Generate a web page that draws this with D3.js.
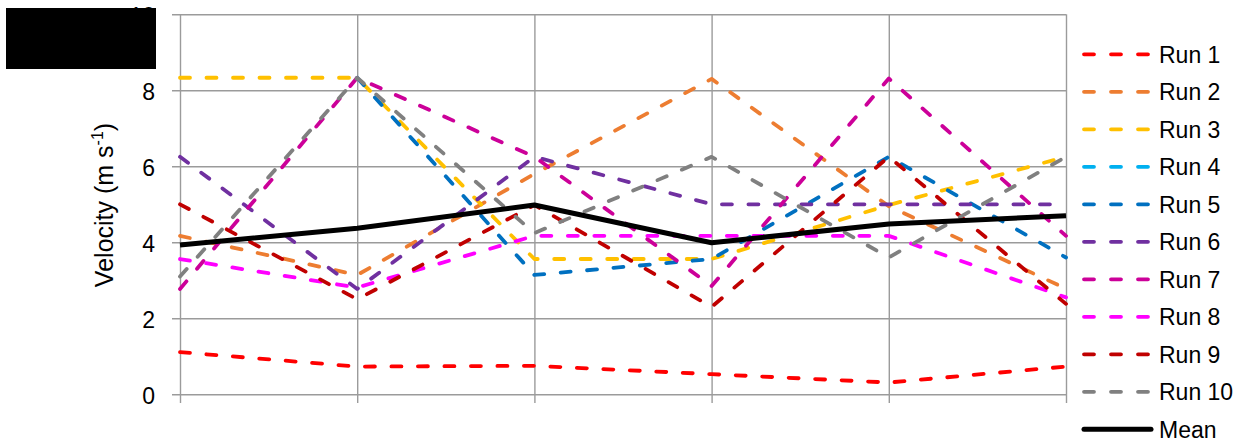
<!DOCTYPE html>
<html>
<head>
<meta charset="utf-8">
<script src="https://cdn.jsdelivr.net/npm/d3@7/dist/d3.min.js"></script>
<style>
  html, body { margin: 0; padding: 0; background: #fff; }
  svg { display: block; font-family: "Liberation Sans", Arial, sans-serif; }
</style>
</head>
<body>
<svg id="chart" width="1260" height="443"></svg>
<script>
// ---- data ----
const categories = ["1", "2", "3", "4", "5", "6"];
const yTicks = [0, 2, 4, 6, 8, 10];
const seriesNames = ["Run 1", "Run 2", "Run 3", "Run 4", "Run 5", "Run 6", "Run 7", "Run 8", "Run 9", "Run 10", "Mean"];
const run1  = [1.11, 0.73, 0.75, 0.53, 0.31, 0.73];
const run2  = [4.17, 3.14, 5.80, 8.30, 4.95, 2.78];
const run3  = [8.33, 8.33, 3.56, 3.56, 4.98, 6.25];
const run4  = [null, null, null, null, null, null];
const run5  = [null, 8.33, 3.14, 3.56, 6.25, 3.60];
const run6  = [6.25, 2.77, 6.25, 5.00, 5.00, 5.00];
const run7  = [2.77, 8.33, 6.25, 2.85, 8.31, 4.17];
const run8  = [3.56, 2.81, 4.17, 4.17, 4.17, 2.55];
const run9  = [5.00, 2.50, 4.98, 2.30, 6.25, 2.38];
const run10 = [3.10, 8.33, 4.24, 6.25, 3.60, 6.25];
const mean  = [3.93, 4.37, 4.98, 3.99, 4.48, 4.70];
const seriesValues = [run1, run2, run3, run4, run5, run6, run7, run8, run9, run10, mean];
const seriesColors = ["#FF0000", "#ED7D31", "#FFC000", "#00B0F0", "#0070C0", "#7030A0", "#CC0099", "#FF00FF", "#C00000", "#808080", "#000000"];

// ---- layout ----
const svg = d3.select("#chart");
const plot = { left: 180, right: 1066, top: 14.3, bottom: 394.3 };

const x = d3.scalePoint().domain(categories).range([plot.left, plot.right]);
const y = d3.scaleLinear().domain([0, 10]).range([plot.bottom, plot.top]);

const gridColor = "#9b9b9b";

// horizontal gridlines + ticks via axis
const yAxis = d3.axisLeft(y).tickValues(yTicks).tickSize(-(plot.right - plot.left) - 8).tickFormat(d3.format("d")).tickPadding(10);
const gy = svg.append("g").attr("transform", `translate(${plot.right},0)`).call(yAxis);
gy.select(".domain").remove();
gy.selectAll(".tick line").attr("stroke", gridColor).attr("stroke-width", 1.4).attr("x1", 0).attr("x2", -(plot.right - plot.left) - 8);
gy.selectAll(".tick text")
  .attr("x", 155 - plot.right)
  .attr("dy", "0.42em")
  .attr("font-size", 23).attr("fill", "#000")
  .attr("font-family", "'Liberation Sans', Arial, sans-serif");

// vertical gridlines via axis
const xAxis = d3.axisBottom(x).tickSize(-(plot.bottom - plot.top)).tickFormat("");
const gx = svg.append("g").attr("transform", `translate(0,${plot.bottom})`).call(xAxis);
gx.select(".domain").remove();
gx.selectAll(".tick line").attr("stroke", gridColor).attr("stroke-width", 1.4)
  .attr("y1", 8.7).attr("y2", -(plot.bottom - plot.top));

// y-axis title
const yt = svg.append("text")
  .attr("transform", `translate(113,205) rotate(-90)`)
  .attr("text-anchor", "middle")
  .attr("font-size", 25)
  .attr("fill", "#000");
yt.append("tspan").text("Velocity (m s");
yt.append("tspan").attr("font-size", 16).attr("dy", -10).text("-1");
yt.append("tspan").attr("dy", 10).text(")");

// lines
const line = d3.line()
  .defined(d => d.v !== null)
  .x(d => x(d.c))
  .y(d => y(d.v));

seriesNames.forEach((name, i) => {
  const pts = categories.map((c, j) => ({ c, v: seriesValues[i][j] }));
  const isMean = name === "Mean";
  svg.append("path")
    .datum(pts)
    .attr("d", line)
    .attr("fill", "none")
    .attr("stroke", seriesColors[i])
    .attr("stroke-width", isMean ? 5 : 3.8)
    .attr("stroke-linecap", isMean ? "butt" : "round")
    .attr("stroke-linejoin", "round")
    .attr("stroke-dasharray", isMean ? null : "10,16.5");
});

// legend
const legend = svg.append("g");
seriesNames.forEach((name, i) => {
  const cy = 54.3 + i * 37.5;
  const isMean = name === "Mean";
  legend.append("line")
    .attr("x1", 1084).attr("x2", isMean ? 1151 : 1149)
    .attr("y1", cy).attr("y2", cy)
    .attr("stroke", seriesColors[i])
    .attr("stroke-width", isMean ? 5 : 3.8)
    .attr("stroke-linecap", "round")
    .attr("stroke-dasharray", isMean ? null : "10,17");
  legend.append("text")
    .attr("x", 1159).attr("y", cy + 8.3)
    .attr("font-size", 23).attr("fill", "#000")
    .text(name);
});

// black redaction box
svg.append("rect").attr("x", 6).attr("y", 8).attr("width", 150).attr("height", 61).attr("fill", "#000");
</script>
</body>
</html>
